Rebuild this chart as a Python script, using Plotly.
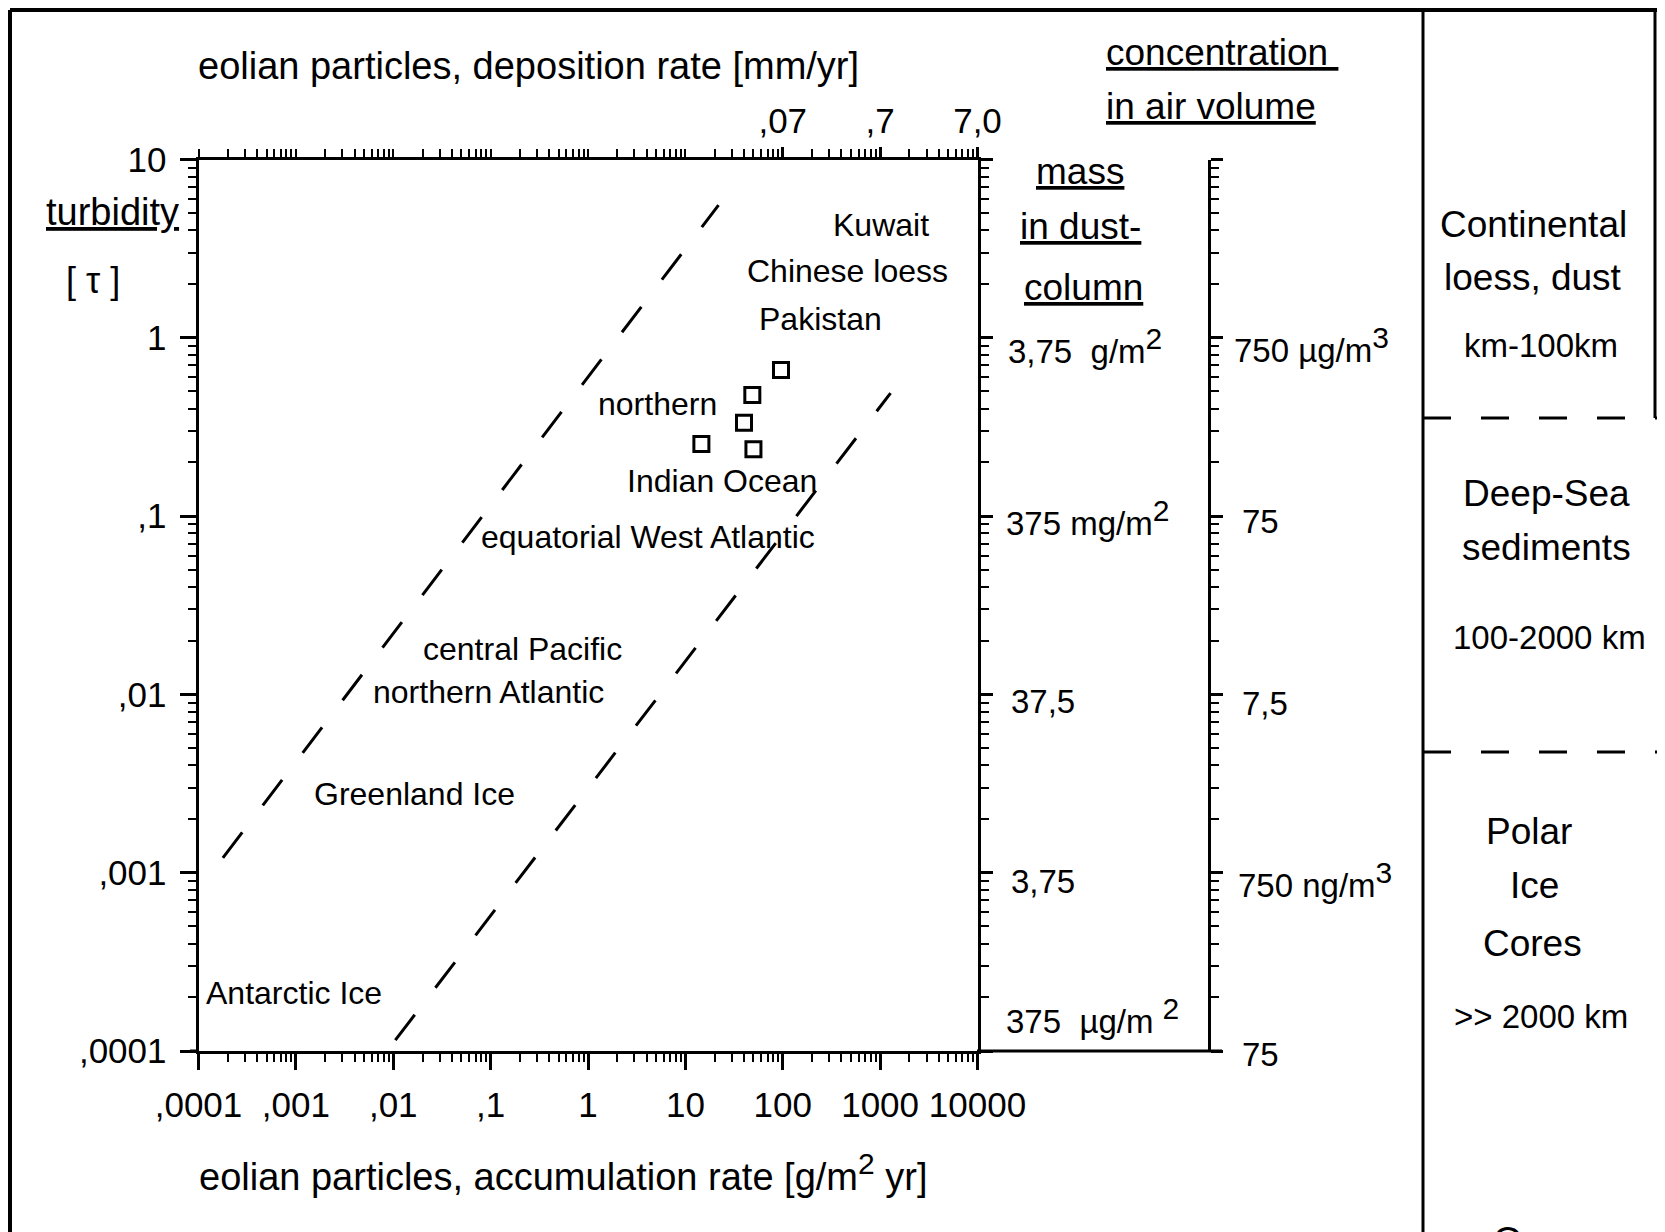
import plotly.graph_objects as go

# ---------------- data ----------------
x_decades = [1e-4, 1e-3, 1e-2, 1e-1, 1, 10, 100, 1000, 10000]
x_tick_labels = [",0001", ",001", ",01", ",1", "1", "10", "100", "1000", "10000"]
top_tick_vals = [100, 1000, 10000]
top_tick_labels = [",07", ",7", "7,0"]
y_decades = [1e-4, 1e-3, 1e-2, 1e-1, 1, 10]
y_tick_labels = [",0001", ",001", ",01", ",1", "1", "10"]

# Indian Ocean / loess samples (open squares)
sample_x = [96, 48.7, 40, 14.6, 50]
sample_y = [0.66, 0.477, 0.334, 0.254, 0.237]

# dashed envelope lines (end points)
upper_line_x = [0.000178, 21.9]
upper_line_y = [0.00121, 5.55]
lower_line_x = [0.0105, 1280]
lower_line_y = [0.000115, 0.49]

SUP = '<sup><span style="font-size:30px">{}</span></sup>'
mass_labels = ["3,75  g/m" + SUP.format("2"), "375 mg/m" + SUP.format("2"), "37,5", "3,75",
               "375  µg/m " + SUP.format("2")]
conc_labels = ["750 µg/m" + SUP.format("3"), "75", "7,5", "750 ng/m" + SUP.format("3"), "75"]

# ---------------- layout helpers ----------------
W, H = 1665, 1232
OFF = 8  # the page body adds an 8px margin; positions below are screen pixels
FONT = "Liberation Sans, Arial, sans-serif"


def px(x):
    return (x - OFF) / W


def py(y):
    return 1 - (y - OFF) / H


L, R, T, B = 198.5, 977.5, 159.5, 1051.0
xdom = [px(L), px(R)]
ydom = [py(B), py(T)]
x3pos = px(1209)

fig = go.Figure()

fig.add_trace(go.Scatter(x=upper_line_x, y=upper_line_y, mode="lines",
                         line=dict(color="black", width=3, dash="32px,34px"),
                         hoverinfo="skip"))
fig.add_trace(go.Scatter(x=lower_line_x, y=lower_line_y, mode="lines",
                         line=dict(color="black", width=3, dash="32px,34px"),
                         hoverinfo="skip"))
fig.add_trace(go.Scatter(x=sample_x, y=sample_y, mode="markers",
                         marker=dict(symbol="square-open", size=15, color="black",
                                     line=dict(width=3, color="black")),
                         hoverinfo="skip"))
# invisible traces to anchor the extra axes
fig.add_trace(go.Scatter(x=sample_x, y=sample_y, xaxis="x2", yaxis="y", mode="markers",
                         marker=dict(opacity=0), hoverinfo="skip"))
fig.add_trace(go.Scatter(x=sample_x, y=sample_y, xaxis="x", yaxis="y2", mode="markers",
                         marker=dict(opacity=0), hoverinfo="skip"))
fig.add_trace(go.Scatter(x=sample_x, y=sample_y, xaxis="x", yaxis="y3", mode="markers",
                         marker=dict(opacity=0), hoverinfo="skip"))

common = dict(type="log", showgrid=False, zeroline=False, showline=True,
              linecolor="black", linewidth=3, ticks="outside", tickcolor="black",
              tickwidth=3, ticklen=16, automargin=False,
              minor=dict(ticks="outside", ticklen=8, tickwidth=2, tickcolor="black",
                         dtick="D1", showgrid=False))

fig.update_layout(
    width=W, height=H,
    margin=dict(l=0, r=0, t=0, b=0, pad=0, autoexpand=False),
    paper_bgcolor="white", plot_bgcolor="white",
    showlegend=False,
    font=dict(family=FONT, color="black", size=32),
    xaxis=dict(common, domain=xdom, range=[-4, 4], anchor="y", side="bottom",
               tickmode="array", tickvals=x_decades, ticktext=x_tick_labels,
               tickfont=dict(size=35, family=FONT), ticklabelstandoff=5),
    xaxis2=dict(common, domain=xdom, range=[-4, 4], anchor="y", side="top", overlaying="x",
                tickmode="array", tickvals=top_tick_vals, ticktext=top_tick_labels,
                tickfont=dict(size=35, family=FONT), ticklabelstandoff=0, ticklen=10),
    yaxis=dict(common, domain=ydom, range=[-4, 1], anchor="x", side="left",
               tickmode="array", tickvals=y_decades, ticktext=y_tick_labels,
               tickfont=dict(size=35, family=FONT), ticklabelstandoff=6),
    yaxis2=dict(common, domain=ydom, range=[-4, 1], anchor="x", side="right", overlaying="y",
                tickmode="array", tickvals=y_decades, showticklabels=False, ticklen=12),
    yaxis3=dict(common, domain=ydom, range=[-4, 1], anchor="free", position=x3pos,
                side="right", overlaying="y",
                tickmode="array", tickvals=y_decades, showticklabels=False, ticklen=12),
)

ann = []


def text(t, x, y, size=32, xanchor="center", yanchor="middle"):
    ann.append(dict(text=t, x=px(x), y=py(y), xref="paper", yref="paper", showarrow=False,
                    xanchor=xanchor, yanchor=yanchor,
                    font=dict(size=size, family=FONT, color="black")))


# titles
text("eolian particles, deposition rate [mm/yr]", 528, 66, size=38)
text("eolian particles, accumulation rate [g/m" + SUP.format("2") + " yr]", 563, 1172, size=38)
text("<u>turbidity</u>", 113, 212, size=38)
text("[ τ ]", 93, 281, size=36)
text("<u>concentration </u>", 1104, 53, size=37, xanchor="left")
text("<u>in air volume</u>", 1104, 106, size=37, xanchor="left")
text("<u>mass</u>", 1080, 172, size=37)
text("<u>in dust-</u>", 1080, 226, size=37)
text("<u>column</u>", 1083, 287, size=37)

# right-axis labels
mass_y = [346, 518, 701, 881, 1016]
mass_x = [1006, 1004, 1009, 1009, 1004]
for lab, xx, yy in zip(mass_labels, mass_x, mass_y):
    text(lab, xx, yy, size=33, xanchor="left")
conc_y = [345, 522, 703, 880, 1054]
conc_x = [1232, 1240, 1240, 1236, 1240]
for lab, xx, yy in zip(conc_labels, conc_x, conc_y):
    text(lab, xx, yy, size=33, xanchor="left")

# in-plot labels
inplot = [
    ("Kuwait", 881, 225), ("Chinese loess", 847, 271), ("Pakistan", 820, 319),
    ("northern", 657, 404), ("Indian Ocean", 722, 481),
    ("equatorial West Atlantic", 648, 537), ("central Pacific", 522, 649),
    ("northern Atlantic", 488, 692), ("Greenland Ice", 414, 794),
]
for t, xx, yy in inplot:
    text(t, xx, yy, size=32)
text("Antarctic Ice", 204, 993, size=32, xanchor="left")

# right panel
panel = [
    ("Continental", 1533, 224, 37), ("loess, dust", 1533, 278, 37), ("km-100km", 1541, 345, 33),
    ("Deep-Sea", 1546, 494, 37), ("sediments", 1546, 547, 37), ("100-2000 km", 1549, 637, 33),
    ("Polar", 1529, 831, 37), ("Ice", 1534, 885, 37), ("Cores", 1532, 943, 37),
    (">> 2000 km", 1541, 1016, 33),
]
for t, xx, yy, s in panel:
    text(t, xx, yy, size=s)
text("O", 1508, 1218, size=38, yanchor="top")

fig.update_layout(annotations=ann)

# frame lines
shapes = []


def line(x0, y0, x1, y1, w=3, dash=None):
    d = dict(type="line", xref="paper", yref="paper", x0=px(x0), y0=py(y0), x1=px(x1), y1=py(y1),
             line=dict(color="black", width=w))
    if dash:
        d["line"]["dash"] = dash
    shapes.append(d)


line(10, 10, 1670, 10, w=4)
line(10, 10, 10, 1240, w=4)
line(1423, 10, 1423, 1240, w=3)
line(1655, 10, 1655, 418, w=3)
line(1423, 418, 1670, 418, w=3, dash="28px,30px")
line(1423, 752, 1670, 752, w=3, dash="28px,30px")
line(977, 1051, 1222, 1051, w=3)
line(190, 1051, 199, 1051, w=3)
line(190, 159.5, 199, 159.5, w=3)
fig.update_layout(shapes=shapes)

fig.write_html("out.html")
